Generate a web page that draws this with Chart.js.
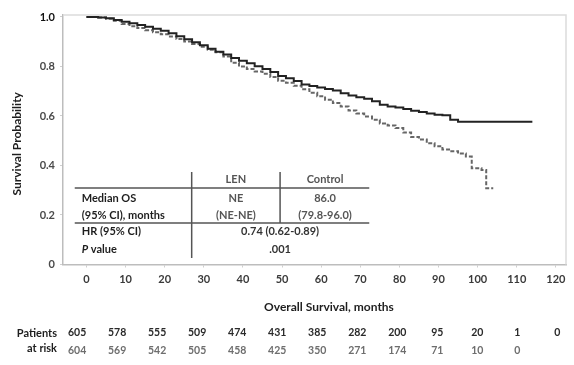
<!DOCTYPE html>
<html>
<head>
<meta charset="utf-8">
<title>Overall Survival</title>
<script src="https://cdn.jsdelivr.net/npm/chart.js@4.4.1/dist/chart.umd.min.js"></script>
<style>
  html, body { margin: 0; padding: 0; background: #fff; }
  canvas { display: block; }
</style>
</head>
<body>
<canvas id="osChart" width="574" height="365"></canvas>
<script>
// ------------------------------
// Kaplan-Meier estimates
// ------------------------------

const lenMonths = [0, 3, 5, 7, 9, 11, 13, 15, 17, 19, 21, 23, 25, 27, 29, 31, 33, 35, 37, 39,
    41, 43, 45, 47, 49, 51, 53, 55, 57, 59, 61, 63, 65, 67, 69, 71, 73, 75, 77, 79,
    81, 83, 85, 87, 89, 91, 93, 95, 100, 105, 110, 114];
const lenSurvival = [1.0, 0.998, 0.995, 0.988, 0.981, 0.975, 0.968, 0.961, 0.952, 0.944,
    0.934, 0.922, 0.910, 0.898, 0.886, 0.872, 0.860, 0.848, 0.834, 0.823,
    0.813, 0.801, 0.790, 0.778, 0.762, 0.752, 0.741, 0.727, 0.721, 0.715,
    0.709, 0.703, 0.692, 0.683, 0.676, 0.670, 0.660, 0.645, 0.638, 0.634,
    0.628, 0.621, 0.616, 0.610, 0.605, 0.603, 0.585, 0.577, 0.577, 0.577, 0.577, 0.577];

const controlMonths = [0, 3, 5, 7, 9, 11, 13, 15, 17, 19, 21, 23, 25, 27, 29, 31, 33, 35, 37, 39,
    41, 43, 45, 47, 49, 51, 53, 55, 57, 59, 61, 63, 65, 67, 69, 71, 73, 75, 77, 79,
    81, 83, 85, 87, 89, 91, 93, 95, 97, 98.5, 101, 102.2, 104];
const controlSurvival = [1.0, 0.998, 0.993, 0.985, 0.972, 0.963, 0.955, 0.946, 0.938, 0.930,
    0.921, 0.911, 0.901, 0.891, 0.880, 0.868, 0.858, 0.840, 0.815, 0.800,
    0.790, 0.780, 0.771, 0.758, 0.742, 0.734, 0.722, 0.708, 0.694, 0.680,
    0.666, 0.652, 0.638, 0.622, 0.610, 0.598, 0.585, 0.570, 0.562, 0.551,
    0.533, 0.515, 0.505, 0.490, 0.478, 0.465, 0.458, 0.448, 0.436, 0.389,
    0.382, 0.308, 0.308];

const xTicks = [0, 10, 20, 30, 40, 50, 60, 70, 80, 90, 100, 110, 120];
const yTicks = [0, 0.2, 0.4, 0.6, 0.8, 1.0];

// patients at risk every 10 months
const riskLen = [605, 578, 555, 509, 474, 431, 385, 282, 200, 95, 20, 1, 0];
const riskControl = [604, 569, 542, 505, 458, 425, 350, 271, 174, 71, 10, 0];

// summary table
const armNames = ["LEN", "Control"];
const medianOS = ["NE", "86.0"];
const medianCI = ["(NE-NE)", "(79.8-96.0)"];
const hazardRatio = "0.74 (0.62-0.89)";
const pValue = ".001";

const FONT = "Lato, 'Open Sans', sans-serif";

function toPoints(months, surv) {
    return months.map((m, i) => ({ x: m, y: surv[i] }));
}

// ------------------------------
// Table, frame and axis titles
// ------------------------------

function label(ctx, str, x, y, align, color, size, style) {
    ctx.font = (style || "bold") + " " + (size || 11) + "px " + FONT;
    ctx.fillStyle = color;
    ctx.textAlign = align;
    ctx.textBaseline = "middle";
    ctx.fillText(str, x, y);
}

const extras = {
    id: "extras",
    afterDraw(chart) {
        const { ctx, chartArea: a, scales: { x, y } } = chart;
        const px = v => x.getPixelForValue(v);
        const py = v => y.getPixelForValue(v);

        ctx.save();

        // light frame on top and right
        ctx.strokeStyle = "#dcdcdc";
        ctx.lineWidth = 1.5;
        ctx.beginPath();
        ctx.moveTo(a.left, a.top);
        ctx.lineTo(a.right, a.top);
        ctx.lineTo(a.right, a.bottom);
        ctx.stroke();

        // table rules
        ctx.strokeStyle = "#555";
        ctx.lineWidth = 1.5;
        ctx.beginPath();
        ctx.moveTo(px(-3), py(0.309)); ctx.lineTo(px(72.3), py(0.309));
        ctx.moveTo(px(-3), py(0.168)); ctx.lineTo(px(72.3), py(0.168));
        ctx.moveTo(px(26.9), py(0.374)); ctx.lineTo(px(26.9), py(0.026));
        ctx.moveTo(px(49.5), py(0.374)); ctx.lineTo(px(49.5), py(0.168));
        ctx.stroke();

        // table text
        const colCenters = [px(38.2), px(61)];
        armNames.forEach((n, i) => label(ctx, n, colCenters[i], py(0.343), "center", "#555"));
        medianOS.forEach((n, i) => label(ctx, n, colCenters[i], py(0.265), "center", "#555"));
        medianCI.forEach((n, i) => label(ctx, n, colCenters[i], py(0.200), "center", "#555"));
        label(ctx, "Median OS", px(-1.2), py(0.265), "left", "#1e1e1e");
        label(ctx, "(95% CI), months", px(-1.2), py(0.200), "left", "#1e1e1e");
        label(ctx, "HR (95% CI)", px(-1.2), py(0.133), "left", "#1e1e1e");
        label(ctx, "P", px(-1.2), py(0.061), "left", "#1e1e1e", 11, "italic bold");
        const pw = ctx.measureText("P").width;
        label(ctx, " value", px(-1.2) + pw, py(0.061), "left", "#1e1e1e");
        label(ctx, hazardRatio, px(49.5), py(0.133), "center", "#333");
        label(ctx, pValue, px(49.5), py(0.061), "center", "#333");

        // axis titles
        ctx.save();
        ctx.translate(17, (a.top + a.bottom) / 2 + 4);
        ctx.rotate(-Math.PI / 2);
        label(ctx, "Survival Probability", 0, 0, "center", "#1e1e1e", 12);
        ctx.restore();
        label(ctx, "Overall Survival, months", px(62), a.bottom + 43, "center", "#1e1e1e", 12);

        // patients at risk
        label(ctx, "Patients", 57, a.bottom + 68.5, "right", "#1e1e1e", 11);
        label(ctx, "at risk", 57, a.bottom + 84, "right", "#1e1e1e", 11);
        const first = -2.4, last = 120.4;
        const step = (last - first) / (riskLen.length - 1);
        riskLen.forEach((n, i) =>
            label(ctx, String(n), px(first + i * step), a.bottom + 68.5, "center", "#2a2a2a", 10.5));
        riskControl.forEach((n, i) =>
            label(ctx, String(n), px(first + i * step), a.bottom + 86.5, "center", "#6e6e6e", 10.5));

        ctx.restore();
    }
};

// ------------------------------
// Survival curves
// ------------------------------

new Chart(document.getElementById("osChart"), {
    type: "line",
    data: {
        datasets: [
            {
                label: "LEN",
                data: toPoints(lenMonths, lenSurvival),
                borderColor: "#222",
                borderWidth: 2,
                stepped: true,
                pointRadius: 0,
                fill: false
            },
            {
                label: "Control",
                data: toPoints(controlMonths, controlSurvival),
                borderColor: "#666",
                borderWidth: 2,
                borderDash: [4, 2],
                stepped: true,
                pointRadius: 0,
                fill: false
            }
        ]
    },
    options: {
        responsive: false,
        animation: false,
        layout: { padding: { left: 0, top: 15, right: 8, bottom: 0 } },
        plugins: {
            legend: { display: false },
            tooltip: { enabled: false }
        },
        scales: {
            x: {
                type: "linear",
                min: -6,
                max: 122.6,
                afterBuildTicks: axis => { axis.ticks = xTicks.map(v => ({ value: v })); },
                afterFit: axis => { axis.height = 100.5; },
                grid: { drawOnChartArea: false, tickLength: 3, color: "#cfcfcf" },
                border: { color: "#bdbdbd", width: 1.5 },
                ticks: {
                    padding: 5,
                    maxRotation: 0,
                    color: "#3a3a3a",
                    font: { family: FONT, size: 11, weight: "bold" }
                }
            },
            y: {
                min: 0,
                max: 1.008,
                afterBuildTicks: axis => { axis.ticks = yTicks.map(v => ({ value: v })); },
                afterFit: axis => { axis.width = 63; },
                grid: { drawOnChartArea: false, tickLength: 3, color: "#cfcfcf" },
                border: { color: "#bdbdbd", width: 1.5 },
                ticks: {
                    padding: 5,
                    color: ctx => ctx.tick.value === 1 ? "#111" : "#4a4a4a",
                    font: { family: FONT, size: 11, weight: "bold" },
                    callback: v => v === 0 ? "0" : v.toFixed(1)
                }
            }
        }
    },
    plugins: [extras]
});
</script>
</body>
</html>
